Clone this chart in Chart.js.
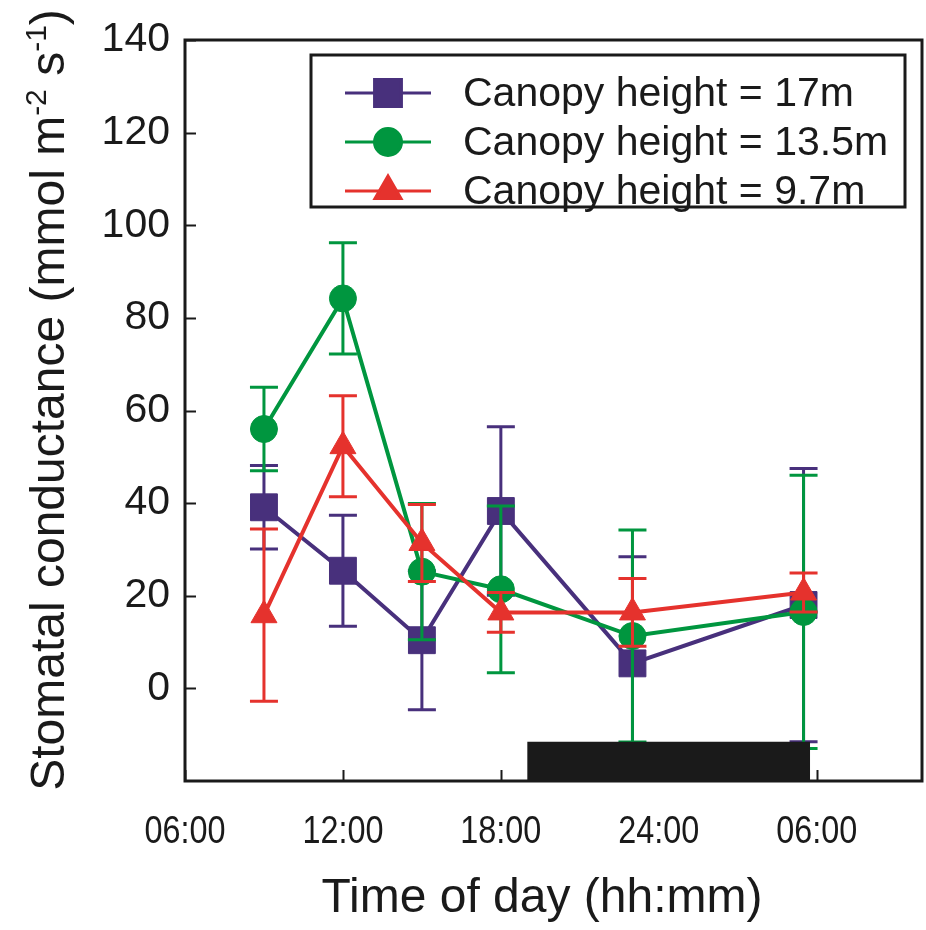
<!DOCTYPE html>
<html>
<head>
<meta charset="utf-8">
<script src="https://cdn.jsdelivr.net/npm/chart.js@4.4.1/dist/chart.umd.min.js"></script>
<style>
  html, body { margin: 0; padding: 0; background: #fff; overflow: hidden; }
  #wrap { width: 926px; height: 930px; }
  canvas { display: block; }
</style>
</head>
<body>
<div id="wrap"><canvas id="chart" width="926" height="930"></canvas></div>
<script>
// time of day in hours (24+ = next day)
const hours = [9, 12, 15, 18, 23, 29.5];

// stomatal conductance, mmol m-2 s-1, with +/- error
const cond17 = [39.1, 25.4, 10.4, 38.3, 5.4, 18.0];
const err17 = [9.0, 12.0, 15.0, 18.2, 23.0, 29.5];
const cond135 = [56.0, 84.2, 25.2, 21.4, 11.3, 16.5];
const err135 = [9.0, 12.0, 14.7, 18.0, 22.9, 29.5];
const cond97 = [15.8, 52.3, 31.4, 16.4, 16.4, 20.7];
const err97 = [18.6, 10.9, 8.3, 4.3, 7.3, 4.2];

const seriesLabels = ["Canopy height = 17m", "Canopy height = 13.5m", "Canopy height = 9.7m"];

// night period bar along the bottom
const nightX = [19, 29.75];
const nightTop = [-11.5, -11.5];

const xTickValues = [6, 12, 18, 24, 30];
const xTickLabels = ["06:00", "12:00", "18:00", "24:00", "06:00"];
const yTickValues = [0, 20, 40, 60, 80, 100, 120, 140];

const SANS = '"Liberation Sans", Arial, Helvetica, sans-serif';
const INK = "#1a1a1a";
const PURPLE = "#48307c";
const GREEN = "#00963f";
const RED = "#e5322d";

const pts = (xs, ys) => xs.map((x, i) => ({ x: x, y: ys[i] }));

function series(label, ys, errs, color, style, radius, order) {
  return {
    label: label,
    data: pts(hours, ys),
    errors: errs,
    showLine: true,
    borderColor: color,
    backgroundColor: color,
    borderWidth: 4,
    pointStyle: style,
    pointRadius: radius,
    pointBackgroundColor: color,
    pointBorderColor: color,
    pointBorderWidth: 1,
    order: order,
  };
}

// error bars, drawn just before each series so later series sit on top
const errorBars = {
  id: "errorBars",
  beforeDatasetDraw(chart, args) {
    const ds = chart.data.datasets[args.index];
    if (!ds.errors) return;
    const y = chart.scales.y;
    const ctx = chart.ctx;
    ctx.save();
    ctx.strokeStyle = ds.borderColor;
    ctx.lineWidth = 3;
    args.meta.data.forEach((p, i) => {
      const v = ds.data[i].y, e = ds.errors[i];
      const top = y.getPixelForValue(v + e);
      const bot = y.getPixelForValue(v - e);
      ctx.beginPath();
      ctx.moveTo(p.x, top); ctx.lineTo(p.x, bot);
      ctx.moveTo(p.x - 14, top); ctx.lineTo(p.x + 14, top);
      ctx.moveTo(p.x - 14, bot); ctx.lineTo(p.x + 14, bot);
      ctx.stroke();
    });
    ctx.restore();
  },
};

// frame around the plot with inward tick marks
const frame = {
  id: "frame",
  afterDatasetsDraw(chart) {
    const { ctx, chartArea: a, scales } = chart;
    ctx.save();
    ctx.strokeStyle = INK;
    ctx.lineWidth = 2;
    ctx.beginPath();
    yTickValues.forEach(v => {
      const py = Math.round(scales.y.getPixelForValue(v)) + 0.5;
      ctx.moveTo(a.left, py); ctx.lineTo(a.left + 11, py);
    });
    xTickValues.forEach(v => {
      const px = Math.round(scales.x.getPixelForValue(v)) + 0.5;
      ctx.moveTo(px, a.bottom); ctx.lineTo(px, a.bottom - 11);
    });
    ctx.stroke();
    ctx.lineWidth = 3;
    ctx.strokeRect(a.left, a.top, a.right - a.left, a.bottom - a.top);
    ctx.restore();
  },
};

// x tick labels (condensed), axis titles and the boxed legend
const labels = {
  id: "labels",
  afterDraw(chart) {
    const ctx = chart.ctx;
    const a = chart.chartArea;
    ctx.save();
    ctx.fillStyle = INK;

    ctx.font = "39px " + SANS;
    ctx.textAlign = "center";
    ctx.textBaseline = "middle";
    xTickValues.forEach((v, i) => {
      const px = chart.scales.x.getPixelForValue(v);
      ctx.save();
      ctx.translate(px, a.bottom + 51);
      ctx.scale(0.83, 1);
      ctx.fillText(xTickLabels[i], 0, 0);
      ctx.restore();
    });

    ctx.font = "48px " + SANS;
    ctx.textAlign = "center";
    ctx.textBaseline = "alphabetic";
    ctx.fillText("Time of day (hh:mm)", 542, 912);

    // y title with superscripts
    const parts = [
      ["Stomatal conductance (mmol m", false],
      ["-2", true],
      [" s", false],
      ["-1", true],
      [")", false],
    ];
    const big = "48px " + SANS, small = "30px " + SANS;
    let total = 0;
    parts.forEach(([t, sup]) => { ctx.font = sup ? small : big; total += ctx.measureText(t).width; });
    ctx.translate(64, 400);
    ctx.rotate(-Math.PI / 2);
    ctx.textAlign = "left";
    let cx = -total / 2;
    parts.forEach(([t, sup]) => {
      ctx.font = sup ? small : big;
      ctx.fillText(t, cx, sup ? -18 : 0);
      cx += ctx.measureText(t).width;
    });
    ctx.setTransform(1, 0, 0, 1, 0, 0);

    // legend
    ctx.strokeStyle = INK;
    ctx.lineWidth = 3;
    ctx.strokeRect(311, 55, 594, 152);
    const rows = chart.data.datasets.filter(d => d.errors);
    rows.forEach((d, i) => {
      const yy = 93 + i * 49;
      ctx.strokeStyle = d.borderColor;
      ctx.fillStyle = d.borderColor;
      ctx.lineWidth = 3;
      ctx.beginPath();
      ctx.moveTo(345, yy); ctx.lineTo(431, yy);
      ctx.stroke();
      Chart.helpers.drawPoint(ctx, { pointStyle: d.pointStyle, radius: d.pointRadius, rotation: 0, borderWidth: 1 }, 388, yy);
      ctx.fillStyle = INK;
      ctx.font = "41px " + SANS;
      ctx.textAlign = "left";
      ctx.textBaseline = "middle";
      ctx.fillText(d.label, 463, yy + 2);
    });
    ctx.restore();
  },
};

new Chart(document.getElementById("chart"), {
  type: "scatter",
  data: {
    datasets: [
      series(seriesLabels[0], cond17, err17, PURPLE, "rect", 19, 3),
      series(seriesLabels[1], cond135, err135, GREEN, "circle", 13.5, 2),
      series(seriesLabels[2], cond97, err97, RED, "triangle", 15, 1),
      {
        label: "",
        data: pts(nightX, nightTop),
        showLine: true,
        fill: "start",
        backgroundColor: INK,
        borderColor: INK,
        borderWidth: 0,
        pointRadius: 0,
        order: 0,
      },
    ],
  },
  options: {
    responsive: false,
    animation: false,
    devicePixelRatio: 1,
    layout: { autoPadding: false, padding: { left: 0, top: 40, right: 4, bottom: 0 } },
    plugins: { legend: { display: false }, tooltip: { enabled: false } },
    scales: {
      x: {
        type: "linear",
        min: 6,
        max: 34,
        afterBuildTicks: s => { s.ticks = xTickValues.map(v => ({ value: v })); },
        afterFit: s => { s.height = 149; s.paddingLeft = 0; s.paddingRight = 0; },
        grid: { display: false, drawTicks: false },
        border: { display: false },
        ticks: { display: false },
      },
      y: {
        min: -20,
        max: 140,
        afterBuildTicks: s => { s.ticks = yTickValues.map(v => ({ value: v })); },
        afterFit: s => { s.width = 185; s.paddingTop = 0; s.paddingBottom = 0; },
        grid: { display: false, drawTicks: false },
        border: { display: false },
        ticks: {
          font: { family: SANS, size: 41 },
          color: INK,
          padding: 15,
        },
      },
    },
  },
  plugins: [errorBars, frame, labels],
});
</script>
</body>
</html>
